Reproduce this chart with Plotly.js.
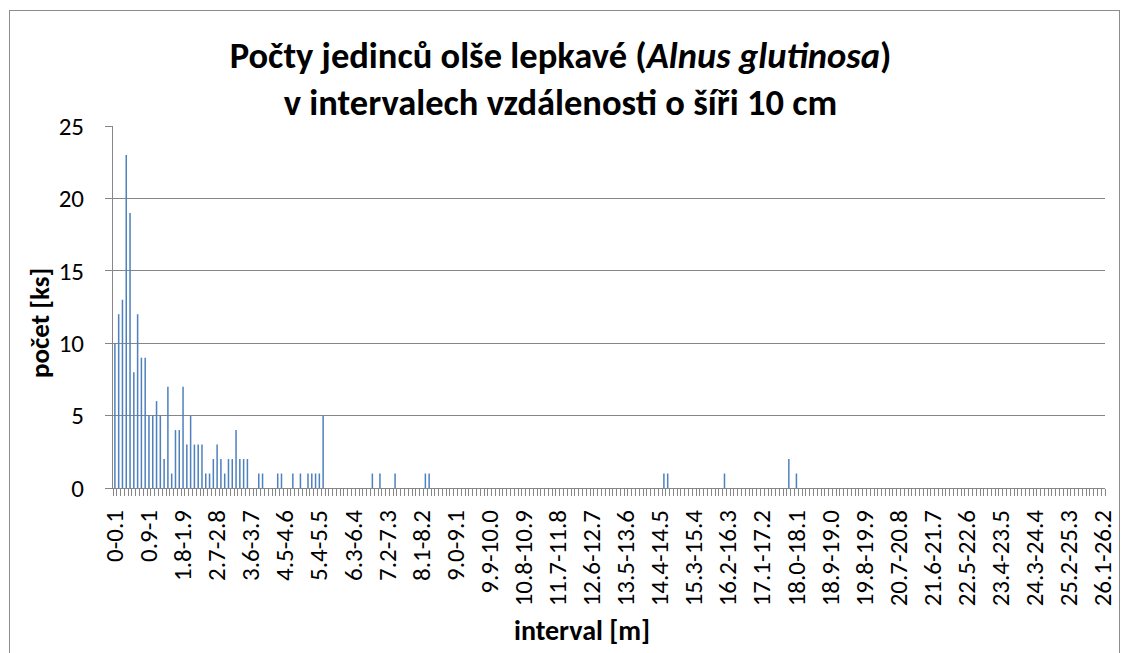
<!DOCTYPE html>
<html>
<head>
<meta charset="utf-8">
<script src="https://cdn.plot.ly/plotly-3.0.1.min.js"></script>
<style>
  html, body { margin: 0; padding: 0; background: #ffffff; overflow: hidden; }
  #chart { width: 1121px; height: 653px; position: absolute; left: 0; top: 0; }
  #frame { position: absolute; left: 9px; top: 10px; width: 1109px; height: 700px;
           border: 1px solid #8c8c8c; pointer-events: none; }
</style>
</head>
<body>
<div id="chart"></div>
<div id="frame"></div>
<script>
// Interval width 10 cm, 262 intervals from 0 m to 26.2 m
const intervalStart = 0.0;
const intervalStep = 0.1;
const intervalCount = 262;

// Counts per interval (index 0 = "0-0.1")
const counts = [
  10, 12, 13, 23, 19, 8, 12, 9, 9, 5,      // 0.0 - 1.0
  5, 6, 5, 2, 7, 1, 4, 4, 7, 3,            // 1.0 - 2.0
  5, 3, 3, 3, 1, 1, 2, 3, 2, 1,            // 2.0 - 3.0
  2, 2, 4, 2, 2, 2, 0, 0, 1, 1,            // 3.0 - 4.0
  0, 0, 0, 1, 1, 0, 0, 1, 0, 1,            // 4.0 - 5.0
  0, 1, 1, 1, 1, 5, 0, 0, 0, 0,            // 5.0 - 6.0
  0, 0, 0, 0, 0, 0, 0, 0, 1, 0,            // 6.0 - 7.0
  1, 0, 0, 0, 1, 0, 0, 0, 0, 0,            // 7.0 - 8.0
  0, 0, 1, 1, 0, 0, 0, 0, 0, 0,            // 8.0 - 9.0
  0, 0, 0, 0, 0, 0, 0, 0, 0, 0,            // 9.0 - 10.0
  0, 0, 0, 0, 0, 0, 0, 0, 0, 0,            // 10.0 - 11.0
  0, 0, 0, 0, 0, 0, 0, 0, 0, 0,            // 11.0 - 12.0
  0, 0, 0, 0, 0, 0, 0, 0, 0, 0,            // 12.0 - 13.0
  0, 0, 0, 0, 0, 0, 0, 0, 0, 0,            // 13.0 - 14.0
  0, 0, 0, 0, 0, 1, 1, 0, 0, 0,            // 14.0 - 15.0
  0, 0, 0, 0, 0, 0, 0, 0, 0, 0,            // 15.0 - 16.0
  0, 1, 0, 0, 0, 0, 0, 0, 0, 0,            // 16.0 - 17.0
  0, 0, 0, 0, 0, 0, 0, 0, 2, 0,            // 17.0 - 18.0
  1, 0, 0, 0, 0, 0, 0, 0, 0, 0,            // 18.0 - 19.0
  0, 0, 0, 0, 0, 0, 0, 0, 0, 0,            // 19.0 - 20.0
  0, 0, 0, 0, 0, 0, 0, 0, 0, 0,            // 20.0 - 21.0
  0, 0, 0, 0, 0, 0, 0, 0, 0, 0,            // 21.0 - 22.0
  0, 0, 0, 0, 0, 0, 0, 0, 0, 0,            // 22.0 - 23.0
  0, 0, 0, 0, 0, 0, 0, 0, 0, 0,            // 23.0 - 24.0
  0, 0, 0, 0, 0, 0, 0, 0, 0, 0,            // 24.0 - 25.0
  0, 0, 0, 0, 0, 0, 0, 0, 0, 0,            // 25.0 - 26.0
  0, 0                                      // 26.0 - 26.2
];

// Category labels ("0-0.1", ..., "0.9-1", "1.0-1.1", ... "26.1-26.2")
const categories = [];
for (let i = 0; i < intervalCount; i++) {
  const a = intervalStart + i * intervalStep;
  const b = intervalStart + (i + 1) * intervalStep;
  if (i < 10) {
    categories.push(String(+a.toFixed(1)) + '-' + String(+b.toFixed(1)));
  } else {
    categories.push(a.toFixed(1) + '-' + b.toFixed(1));
  }
}

// Every 9th category carries a visible label
const labelEvery = 9;
const tickText = categories.map((c, i) => (i % labelEvery === 0 ? c : ''));

const yTicks = [0, 5, 10, 15, 20, 25];

const titleText = 'Počty jedinců olše lepkavé (<i>Alnus glutinosa</i>)<br>v intervalech vzdálenosti o šíři 10 cm';
const xTitle = 'interval [m]';
const yTitle = 'počet [ks]';

const FONT = 'Carlito, Lato, "Open Sans", sans-serif';
const GRAY = '#868686';

const trace = {
  type: 'bar',
  x: categories,
  y: counts,
  marker: { color: '#4f81bd', line: { width: 0 } },
  hoverinfo: 'x+y'
};

const layout = {
  width: 1121,
  height: 653,
  paper_bgcolor: 'rgba(0,0,0,0)',
  plot_bgcolor: '#ffffff',
  margin: { l: 113, r: 16, t: 126, b: 165, pad: 0 },
  bargap: 0.6,
  showlegend: false,
  font: { family: FONT, color: '#000000' },
  title: {
    text: titleText,
    font: { family: FONT, size: 36.5, color: '#000000', weight: 'bold' },
    x: 0.5, xref: 'container', xanchor: 'center',
    y: 1 - 68 / 653, yref: 'container', yanchor: 'top'
  },
  xaxis: {
    type: 'category',
    categoryorder: 'array',
    categoryarray: categories,
    range: [-0.5, intervalCount - 0.5],
    tickmode: 'array',
    tickvals: categories,
    ticktext: tickText,
    tickson: 'boundaries',
    ticks: 'outside',
    ticklen: 7,
    tickwidth: 1,
    tickcolor: GRAY,
    tickangle: -90,
    tickfont: { family: FONT, size: 25, color: '#000000' },
    ticklabelstandoff: 11,
    showline: true,
    linecolor: GRAY,
    linewidth: 1,
    showgrid: false,
    zeroline: false,
    automargin: false,
    fixedrange: true
  },
  yaxis: {
    range: [0, 25],
    tickmode: 'array',
    tickvals: yTicks,
    ticks: 'outside',
    ticklen: 7,
    tickwidth: 1,
    tickcolor: GRAY,
    tickfont: { family: FONT, size: 25, color: '#000000' },
    ticklabelstandoff: 16,
    showline: true,
    linecolor: GRAY,
    linewidth: 1,
    showgrid: true,
    gridcolor: GRAY,
    gridwidth: 1,
    zeroline: false,
    automargin: false,
    fixedrange: true
  },
  annotations: [
    {
      text: '<b>' + yTitle + '</b>',
      xref: 'paper', yref: 'paper',
      x: (39 - 113) / 992, y: (488 - 323) / 362,
      xanchor: 'center', yanchor: 'middle',
      textangle: -90, showarrow: false,
      font: { family: FONT, size: 27, color: '#000000' }
    },
    {
      text: '<b>' + xTitle + '</b>',
      xref: 'paper', yref: 'paper',
      x: (582 - 113) / 992, y: (488 - 630) / 362,
      xanchor: 'center', yanchor: 'middle',
      showarrow: false,
      font: { family: FONT, size: 28, color: '#000000' }
    }
  ]
};

Plotly.newPlot('chart', [trace], layout, { displayModeBar: false, staticPlot: true });
</script>
</body>
</html>
